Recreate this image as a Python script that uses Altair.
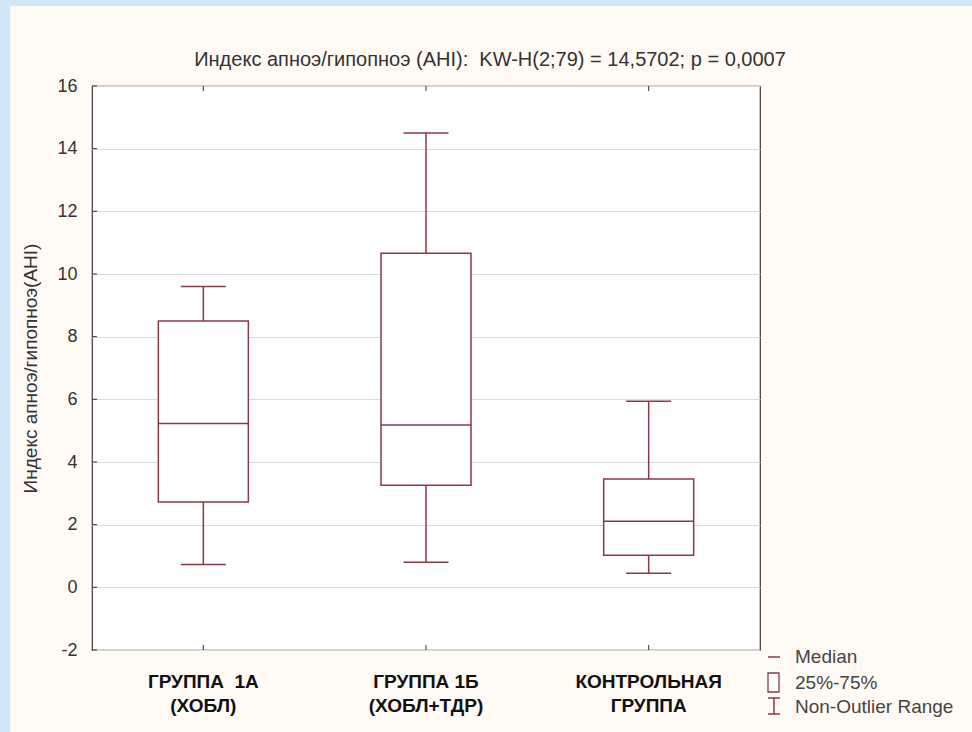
import altair as alt
import pandas as pd

# Box-plot summary per group (Kruskal-Wallis comparison of AHI)
groups = ["ГРУППА\u00a0 1А|(ХОБЛ)", "ГРУППА 1Б|(ХОБЛ+ТДР)", "КОНТРОЛЬНАЯ|ГРУППА"]
whisker_low = [0.73, 0.80, 0.45]
q1 = [2.72, 3.26, 1.02]
median = [5.23, 5.18, 2.11]
q3 = [8.50, 10.66, 3.46]
whisker_high = [9.60, 14.50, 5.94]

y_ticks = [-2, 0, 2, 4, 6, 8, 10, 12, 14, 16]
title_text = "Индекс апноэ/гипопноэ (AHI):\u00a0 KW-H(2;79) = 14,5702; p = 0,0007"
y_title = "Индекс апноэ/гипопноэ(AHI)"
legend_labels = ["Median", "25%-75%", "Non-Outlier Range"]

# Layout (pixels)
W, H = 668, 564
PAD_L, PAD_T = 92, 86
TOTAL_W, TOTAL_H = 972, 732

BOX = "#8a3a44"
INK = "#333333"
FONT = "Liberation Sans, Arial"

df = pd.DataFrame({
    "group": groups,
    "low": whisker_low,
    "q1": q1,
    "med": median,
    "q3": q3,
    "high": whisker_high,
})
ticks_df = pd.DataFrame({"v": y_ticks})
one = pd.DataFrame({"k": [0]})

x_enc = alt.X(
    "group:N",
    sort=groups,
    scale=alt.Scale(paddingInner=0, paddingOuter=0),
    axis=alt.Axis(
        title=None,
        labelAngle=0,
        labelExpr="split(datum.label, '|')",
        labelFont=FONT,
        labelFontWeight="bold",
        labelFontSize=19,
        labelLineHeight=24,
        labelColor="#111111",
        labelPadding=22,
        ticks=False,
        domain=False,
    ),
)
y_scale = alt.Scale(domain=[-2, 16], nice=False, zero=False)
y_axis = alt.Axis(
    values=y_ticks,
    labelExpr="datum.value + ''",
    title=y_title,
    titleFont=FONT,
    titleFontSize=19,
    titleFontWeight="normal",
    titleColor=INK,
    titleAngle=270,
    titleX=-62,
    titleY=H / 2,
    titleAlign="center",
    titleBaseline="middle",
    labelFont=FONT,
    labelFontSize=18,
    labelColor=INK,
    labelPadding=15,
    ticks=False,
    domain=False,
    grid=True,
    gridColor="#dadada",
    gridWidth=1,
)

base = alt.Chart(df)

whisker_lo = base.mark_rule(color=BOX, strokeWidth=1.5).encode(
    x=x_enc, y=alt.Y("low:Q", scale=y_scale, axis=y_axis), y2="q1:Q"
)
whisker_hi = base.mark_rule(color=BOX, strokeWidth=1.5).encode(
    x=alt.X("group:N", sort=groups), y="q3:Q", y2="high:Q"
)
box = base.mark_bar(size=90, fill="white", stroke=BOX, strokeWidth=1.5).encode(
    x=alt.X("group:N", sort=groups), y="q1:Q", y2="q3:Q"
)
med = base.mark_tick(size=90, thickness=1.5, color=BOX, opacity=1).encode(
    x=alt.X("group:N", sort=groups), y="med:Q"
)
cap_lo = base.mark_tick(size=45, thickness=1.5, color=BOX, opacity=1).encode(
    x=alt.X("group:N", sort=groups), y="low:Q"
)
cap_hi = base.mark_tick(size=45, thickness=1.5, color=BOX, opacity=1).encode(
    x=alt.X("group:N", sort=groups), y="high:Q"
)

# inward tick marks on the frame
tick_left = alt.Chart(ticks_df).mark_rule(color=INK, strokeWidth=1).encode(
    y="v:Q", x=alt.value(0), x2=alt.value(5)
)
tick_top = base.mark_rule(color=INK, strokeWidth=1).encode(
    x=alt.X("group:N", sort=groups), y=alt.value(0), y2=alt.value(5)
)
tick_bot = base.mark_rule(color=INK, strokeWidth=1).encode(
    x=alt.X("group:N", sort=groups), y=alt.value(H), y2=alt.value(H - 5)
)

# light blue page edge
edge_left = alt.Chart(one).mark_rect(color="#cfe7f6").encode(
    x=alt.value(-PAD_L), x2=alt.value(-PAD_L + 10),
    y=alt.value(-PAD_T), y2=alt.value(TOTAL_H - PAD_T),
)
edge_top = alt.Chart(one).mark_rect(color="#cfe7f6").encode(
    x=alt.value(-PAD_L), x2=alt.value(TOTAL_W - PAD_L),
    y=alt.value(-PAD_T), y2=alt.value(-PAD_T + 6),
)

title = alt.Chart(one).mark_text(
    text=title_text, font=FONT, fontSize=20, color=INK, align="center", baseline="middle"
).encode(x=alt.value(490 - PAD_L), y=alt.value(60 - PAD_T))

# legend
lx = 768 - PAD_L
leg_med = alt.Chart(one).mark_rule(color=BOX, strokeWidth=1.5).encode(
    x=alt.value(lx), x2=alt.value(lx + 12), y=alt.value(657 - PAD_T)
)
leg_box = alt.Chart(one).mark_rect(fill="white", stroke=BOX, strokeWidth=1.3).encode(
    x=alt.value(lx), x2=alt.value(lx + 11),
    y=alt.value(673 - PAD_T), y2=alt.value(692 - PAD_T),
)
leg_stem = alt.Chart(one).mark_rule(color=BOX, strokeWidth=1.5).encode(
    x=alt.value(lx + 6), y=alt.value(698 - PAD_T), y2=alt.value(714 - PAD_T)
)
leg_cap1 = alt.Chart(one).mark_rule(color=BOX, strokeWidth=1.5).encode(
    x=alt.value(lx), x2=alt.value(lx + 12), y=alt.value(698 - PAD_T)
)
leg_cap2 = alt.Chart(one).mark_rule(color=BOX, strokeWidth=1.5).encode(
    x=alt.value(lx), x2=alt.value(lx + 12), y=alt.value(714 - PAD_T)
)
leg_text = [
    alt.Chart(one).mark_text(
        text=lab, font=FONT, fontSize=19, color="#444444", align="left", baseline="middle"
    ).encode(x=alt.value(795 - PAD_L), y=alt.value(yy - PAD_T))
    for lab, yy in zip(legend_labels, [657, 683, 707])
]

chart = alt.layer(
    edge_left, edge_top,
    whisker_lo, whisker_hi, box, med, cap_lo, cap_hi,
    tick_left, tick_top, tick_bot,
    title,
    leg_med, leg_box, leg_stem, leg_cap1, leg_cap2, *leg_text,
).properties(
    width=W,
    height=H,
    autosize=alt.AutoSizeParams(type="none"),
    padding={"left": PAD_L, "top": PAD_T, "right": TOTAL_W - PAD_L - W, "bottom": TOTAL_H - PAD_T - H},
    background="#fffaf3",
).configure_view(
    fill="white", stroke="#3a3a3a", strokeWidth=1.2
)

chart.save("out.html", embed_options={"renderer": "svg", "actions": False})
